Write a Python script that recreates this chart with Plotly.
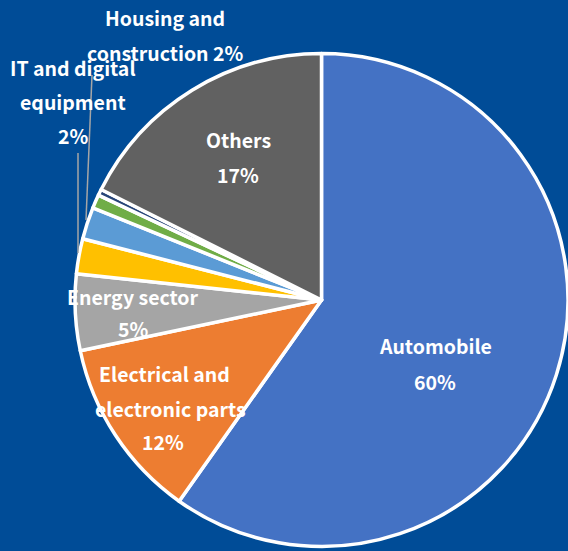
import plotly.graph_objects as go

categories = ["Automobile", "Electrical and electronic parts", "Energy sector",
              "IT and digital equipment", "Housing and construction", "Minor 1", "Minor 2", "Others"]
values = [59.8, 11.9, 5.0, 2.3, 2.1, 0.9, 0.4, 17.6]
colors = ["#4472C4", "#ED7D31", "#A5A5A5", "#FFC000", "#5B9BD5", "#70AD47", "#264478", "#616161"]

W, H = 568, 551
BG = "#004C97"
FONT = "Noto Sans CJK JP"

fig = go.Figure(go.Pie(
    labels=categories, values=values, sort=False, direction="clockwise", rotation=0,
    marker=dict(colors=colors, line=dict(color="white", width=3.5)),
    textinfo="none", hoverinfo="skip", showlegend=False,
    domain=dict(x=[75 / W, 1.0], y=[4 / H, 498 / H]),
))

# label lines (text, center x px, center y px)
label_lines = [
    ("Automobile", 435, 346), ("60%", 435, 381),
    ("Electrical and", 164, 373), ("electronic parts", 170, 408), ("12%", 163, 441),
    ("Energy sector", 133, 296), ("5%", 133, 328),
    ("Others", 238, 139), ("17%", 238, 174),
    ("IT and digital", 73, 68), ("equipment", 73, 102), ("2%", 73, 136),
    ("Housing and", 165, 17), ("construction 2%", 165, 52),
]
annotations = []
for t, x, y in label_lines:
    annotations.append(dict(text=t, x=x / W, y=1 - y / H, xref="paper", yref="paper",
                            showarrow=False, xanchor="center", yanchor="middle",
                            font=dict(family=FONT, size=19.5, color="white", weight="bold")))

leaders = [((78, 153), (78, 253)), ((92, 75), (86, 220))]
shapes = []
for (x0, y0), (x1, y1) in leaders:
    shapes.append(dict(type="line", xref="paper", yref="paper",
                       x0=x0 / W, y0=1 - y0 / H, x1=x1 / W, y1=1 - y1 / H,
                       line=dict(color="#A6A6A6", width=1.5)))

fig.update_layout(width=W, height=H, margin=dict(l=0, r=0, t=0, b=0),
                  paper_bgcolor=BG, plot_bgcolor=BG,
                  annotations=annotations, shapes=shapes)
fig.write_html("out.html")
